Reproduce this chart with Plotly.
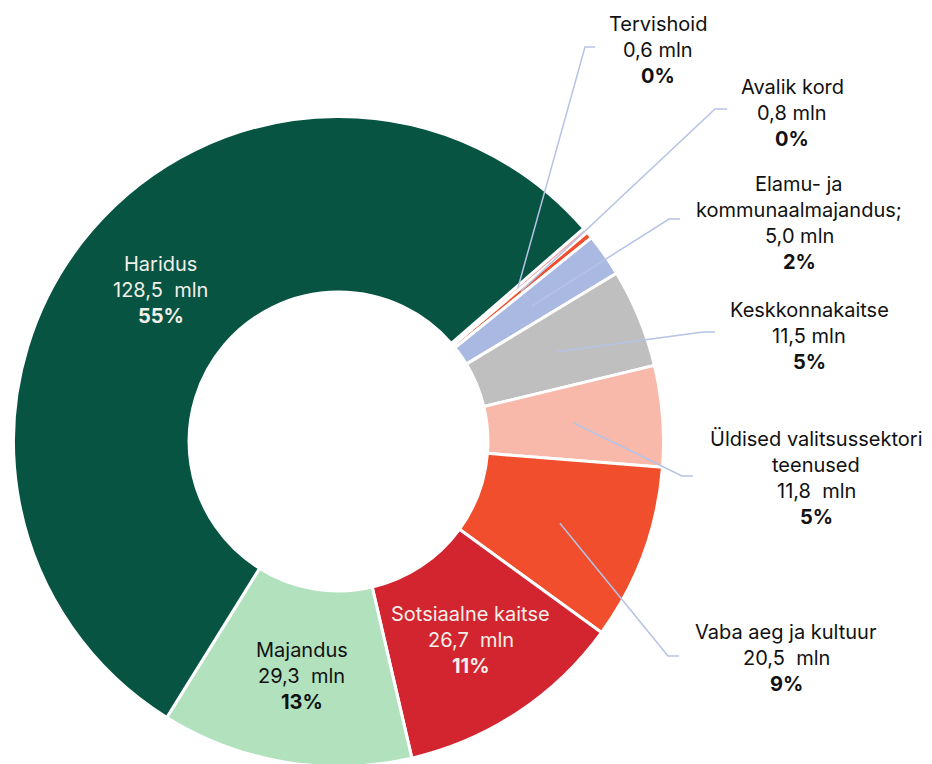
import math
import plotly.graph_objects as go

W, H = 932, 764
OFF = 8  # page body margin that the figure div sits inside

# ---------------- data ----------------
categories = ["Tervishoid", "Avalik kord", "Elamu- ja kommunaalmajandus;", "Keskkonnakaitse",
              "Üldised valitsussektori teenused", "Vaba aeg ja kultuur", "Sotsiaalne kaitse",
              "Majandus", "Haridus"]
label_lines = [["Tervishoid"], ["Avalik kord"], ["Elamu- ja", "kommunaalmajandus;"],
               ["Keskkonnakaitse"], ["Üldised valitsussektori", "teenused"],
               ["Vaba aeg ja kultuur"], ["Sotsiaalne kaitse"], ["Majandus"], ["Haridus"]]
values = [0.6, 0.8, 5.0, 11.5, 11.8, 20.5, 26.7, 29.3, 128.5]
value_labels = ["0,6 mln", "0,8 mln", "5,0 mln", "11,5 mln", "11,8\u00a0 mln", "20,5\u00a0 mln",
                "26,7\u00a0 mln", "29,3\u00a0 mln", "128,5\u00a0 mln"]
pct_labels = ["0%", "0%", "2%", "5%", "5%", "9%", "11%", "13%", "55%"]

# ---------------- style / layout ----------------
colors = ["#F6A6A0", "#F04E2C", "#A9B9E1", "#BFBFBF", "#F8B8AA", "#F04E2C", "#D32530",
          "#B1E1BD", "#075443"]
inside = {"Sotsiaalne kaitse": "#F3F0EA", "Majandus": "#111111", "Haridus": "#F3F0EA"}
# outside label placement (page pixels): text centre x, first line y, leader bend, leader end
outside_pos = {
    "Tervishoid": dict(x=658, y=22, bend=(585, 47), end=(595, 47)),
    "Avalik kord": dict(x=792, y=85, bend=(715, 109), end=(727, 109)),
    "Elamu- ja kommunaalmajandus;": dict(x=799, y=182, bend=(669, 219), end=(680, 219)),
    "Keskkonnakaitse": dict(x=809, y=308, bend=(703, 332), end=(715, 332)),
    "Üldised valitsussektori teenused": dict(x=816, y=437, bend=(682, 476), end=(693, 476)),
    "Vaba aeg ja kultuur": dict(x=786, y=630, bend=(668, 656), end=(679, 656)),
}
ROTATION = 49
FONT = "Inter, Roboto, sans-serif"
FS = 20
LINE = 26
TEXT_DY = 2
LEADER = "#B5C3E6"

CX, CY, R = 338.5, 441.5, 325.0        # pie centre / radius in page pixels
HOLE = 148.5 / 323.0
TEXT_R = 236.0

fcx, fcy = CX - OFF, CY - OFF
dom_x = [(fcx - R) / W, (fcx + R) / W]
dom_y = [1 - (fcy + R) / H, 1 - (fcy - R) / H]

fig = go.Figure(go.Pie(
    labels=categories, values=values, sort=False, direction="clockwise",
    rotation=ROTATION, hole=HOLE, textinfo="none", hoverinfo="label+value+percent",
    marker=dict(colors=colors, line=dict(color="white", width=3)),
    domain=dict(x=dom_x, y=dom_y), showlegend=False,
))


def px(x, y):
    return (x - OFF) / W, 1 - (y - OFF) / H


annotations, shapes = [], []
total = sum(values)
angle = ROTATION
for i, cat in enumerate(categories):
    span = values[i] / total * 360
    mid = math.radians(angle + span / 2)
    angle += span
    mx = CX + TEXT_R * math.sin(mid)
    my = CY - TEXT_R * math.cos(mid)
    lines = label_lines[i] + [value_labels[i], "<b>" + pct_labels[i] + "</b>"]
    if cat in inside:
        color = inside[cat]
        y0 = my - LINE * (len(lines) - 1) / 2
        x0 = mx + 2
    else:
        color = "#111111"
        p = outside_pos[cat]
        x0, y0 = p["x"], p["y"]
        bx, by = p["bend"]
        ex, ey = p["end"]
        a, b = px(mx, my)
        c, d = px(bx, by)
        e, f = px(ex, ey)
        shapes.append(dict(type="path", xref="paper", yref="paper",
                           path=f"M {a} {b} L {c} {d} L {e} {f}",
                           line=dict(color=LEADER, width=1.5)))
    for k, t in enumerate(lines):
        ax, ay = px(x0, y0 + k * LINE + TEXT_DY)
        annotations.append(dict(text=t, x=ax, y=ay, xref="paper", yref="paper",
                                xanchor="center", yanchor="middle", showarrow=False,
                                font=dict(family=FONT, size=FS, color=color)))

fig.update_layout(
    width=W, height=H, margin=dict(l=0, r=0, t=0, b=0),
    paper_bgcolor="white", plot_bgcolor="white",
    annotations=annotations, shapes=shapes,
)
fig.write_html("out.html")
